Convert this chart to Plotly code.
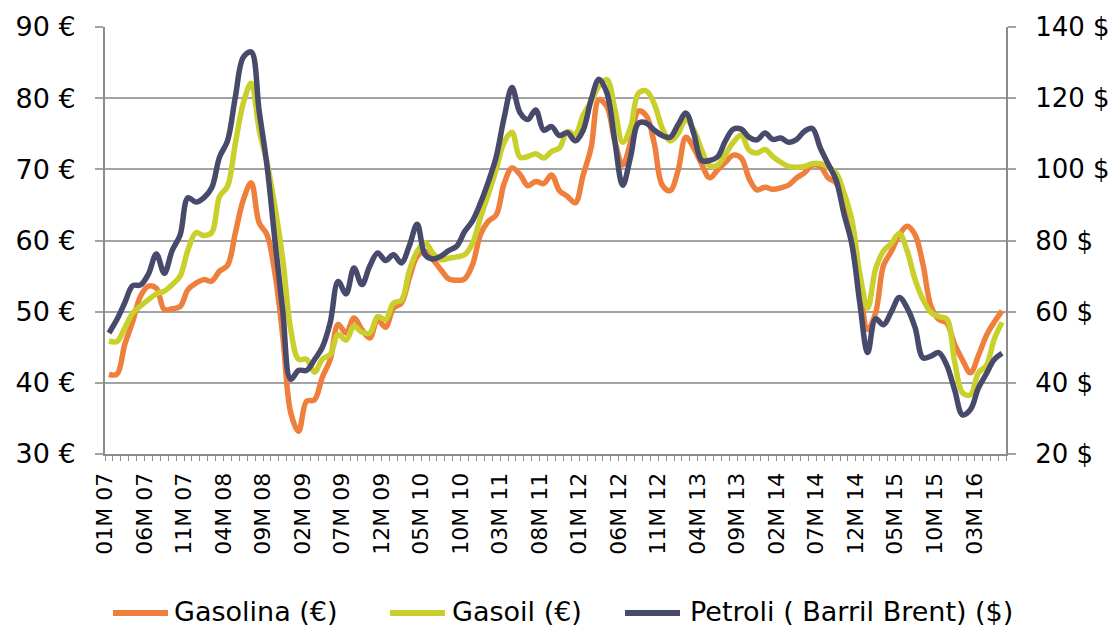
import plotly.graph_objects as go

# ---- data (monthly, 01M 07 .. 06M 16) ----
years = ["07", "08", "09", "10", "11", "12", "13", "14", "15", "16"]
months = []
for yy in years:
    for mm in range(1, 13):
        months.append(f"{mm:02d}M {yy}")
months = months[:114]

gasolina = [
    41.2, 41.2, 45.4, 48.6, 52.2, 53.6, 53.3, 50.3, 50.4, 50.7,
    53.1, 54.0, 54.5, 54.3, 55.7, 56.5, 61.1, 65.7, 68.1, 62.5,
    60.8, 55.4, 46.5, 35.8, 33.2, 37.4, 37.6, 40.8, 43.3, 48.2,
    47.0, 49.1, 47.5, 46.3, 48.9, 47.8, 50.5, 51.2, 54.7, 57.8,
    58.5, 57.3, 55.9, 54.6, 54.4, 54.6, 56.6, 60.8, 62.7, 63.6,
    68.0, 70.2, 69.3, 67.7, 68.3, 68.0, 69.2, 67.0, 66.2, 65.3,
    69.2, 73.0, 79.8, 78.8, 74.0, 70.6, 73.8, 78.2, 77.5, 73.6,
    67.8, 67.0, 69.8, 74.5, 73.0, 70.7, 68.8, 69.9, 71.0, 72.0,
    71.6, 68.7, 67.1, 67.5, 67.2, 67.4, 67.8, 68.8, 69.5, 70.6,
    70.4, 68.8, 68.1, 65.5, 59.5, 53.5, 47.5, 49.8, 56.5, 58.5,
    60.8, 62.0, 60.8, 56.6, 50.8, 48.9, 48.4, 45.4, 43.2, 41.4,
    43.8, 46.6, 48.5, 50.1,
]

gasoil = [
    45.9, 45.8, 47.7, 49.8, 50.8, 51.7, 52.5, 52.9, 53.8, 55.0,
    58.7, 61.1, 60.7, 61.1, 66.2, 67.6, 73.7, 79.3, 82.1, 75.6,
    70.9, 64.8, 57.3, 47.5, 43.3, 43.3, 41.5, 43.3, 44.0, 46.8,
    46.0, 48.0, 47.1, 47.0, 49.3, 48.9, 51.2, 51.6, 55.7, 58.5,
    59.7, 58.2, 57.3, 57.5, 57.7, 58.0, 59.6, 63.2, 66.5, 70.0,
    73.8, 75.2, 71.7, 71.8, 72.2, 71.6, 72.5, 73.0, 75.3, 74.9,
    77.6, 79.5, 81.7, 82.6, 78.5, 73.8, 75.9, 80.7, 81.0, 79.2,
    75.8, 74.0, 75.0, 77.0, 75.5, 72.7, 70.5, 70.6, 72.1, 73.8,
    74.8, 72.7, 72.3, 72.8, 71.8, 71.0, 70.4, 70.3, 70.4, 70.8,
    70.8, 70.3, 69.5, 66.7, 62.9, 55.4, 50.5, 56.0, 58.5, 59.6,
    61.0, 58.5, 54.5, 51.7, 49.9, 49.3, 49.0, 43.0, 38.6, 38.3,
    41.4, 42.4, 46.1, 48.5,
]

brent = [
    54.0, 57.8, 62.5, 67.3, 67.5, 70.6, 76.2, 70.8, 77.2, 81.5,
    92.0, 90.8, 92.0, 94.8, 103.5, 108.0, 120.5, 131.5, 133.0, 116.5,
    101.0, 80.0, 60.0, 41.0, 43.5, 43.5, 46.5, 50.0, 57.0, 68.5,
    65.0, 72.3, 67.6, 72.8, 76.5, 74.4, 76.0, 73.7, 78.5, 84.6,
    76.0, 74.8, 75.6, 77.2, 78.4, 82.5, 85.5, 90.5, 96.5, 103.5,
    114.5, 123.0, 116.0, 114.0, 116.7, 111.0, 112.0, 109.5, 110.3, 108.0,
    111.0, 119.5, 125.3, 121.5, 108.0, 95.5, 103.5, 113.0, 113.0, 111.0,
    109.5, 109.0, 112.5, 115.8, 110.0, 102.5, 102.5, 103.5, 108.0, 111.3,
    111.3, 109.0, 108.3, 110.2, 108.4, 108.8, 107.6, 108.4, 110.7, 111.5,
    106.0, 101.5, 97.0, 87.5, 79.0, 62.5, 48.5, 58.0, 56.3, 60.0,
    64.0, 61.0, 55.5, 47.0, 47.5, 48.5, 45.0, 38.0, 31.0, 32.5,
    38.5, 42.5, 46.5, 48.3,
]

tick_labels = months[::5]
left_ticks = [30, 40, 50, 60, 70, 80, 90]
left_labels = ["30 €", "40 €", "50 €", "60 €", "70 €", "80 €", "90 €"]
right_ticks = [20, 40, 60, 80, 100, 120, 140]
right_labels = ["20 $", "40 $", "60 $", "80 $", "100 $", "120 $", "140 $"]
series_names = ["Gasolina (€)", "Gasoil (€)", "Petroli ( Barril Brent) ($)"]

# ---- styles ----
C_GASOLINA = "#EF7F3C"
C_GASOIL = "#C9CF2B"
C_BRENT = "#474A6B"
GRID = "#A3A3A3"
AXIS = "#8C8C8C"
FONT = "DejaVu Sans"
TXT = "#000000"

W, H = 1115, 627
PL, PR, PT, PB = 105, 1006, 27, 454


def px_x(p):
    return (p - PL) / (PR - PL)


def px_y(p):
    return (PB - p) / (PB - PT)


idx = list(range(len(months)))
fig = go.Figure()
series = [(gasolina, C_GASOLINA, "y", "€"), (gasoil, C_GASOIL, "y", "€"),
          (brent, C_BRENT, "y2", "$")]
for (vals, col, ax, unit), name in zip(series, series_names):
    fig.add_trace(go.Scatter(
        x=idx, y=vals, name=name, mode="lines", yaxis=ax,
        line=dict(color=col, width=5.5, shape="spline", smoothing=1),
        customdata=months, hovertemplate="%{customdata}: %{y} " + unit + "<extra></extra>"))

tick_pos = [months.index(t) - 0.5 for t in tick_labels]

# custom legend (long line keys like the reference)
legend_items = [(113, 168, 172), (390, 445, 450), (625, 680, 688)]
shapes, annotations = [], []
LEG_Y = 611
for (x0, x1, xt), name, (_, col, _, _) in zip(legend_items, series_names, series):
    shapes.append(dict(type="line", xref="paper", yref="paper",
                       x0=px_x(x0), x1=px_x(x1), y0=px_y(LEG_Y + 2), y1=px_y(LEG_Y + 2),
                       line=dict(color=col, width=6)))
    annotations.append(dict(xref="paper", yref="paper", x=px_x(xt), y=px_y(LEG_Y),
                            xanchor="left", yanchor="middle", showarrow=False,
                            text=name, font=dict(size=27, family=FONT, color=TXT)))

fig.update_layout(
    width=W, height=H,
    margin=dict(l=PL, r=W - PR, t=PT, b=H - PB, autoexpand=False),
    paper_bgcolor="white", plot_bgcolor="white",
    font=dict(family=FONT, color=TXT),
    showlegend=False,
    shapes=shapes, annotations=annotations,
    xaxis=dict(
        range=[-0.5, len(months) - 0.5], automargin=False,
        tickmode="array", tickvals=tick_pos, ticktext=tick_labels,
        tickangle=-90, ticks="", tickfont=dict(size=22, family=FONT, color=TXT),
        ticklabelstandoff=8,
        showgrid=False, zeroline=False,
        showline=True, linecolor=AXIS, linewidth=2,
        minor=dict(ticks="outside", ticklen=5, tickwidth=1, tickcolor=AXIS,
                   tickmode="array",
                   tickvals=[i - 0.5 for i in range(len(months) + 1)]),
    ),
    yaxis=dict(
        range=[30, 90], tickmode="array", tickvals=left_ticks, ticktext=left_labels,
        tickfont=dict(size=27, family=FONT, color=TXT), automargin=False,
        showgrid=True, gridcolor=GRID, gridwidth=2,
        ticks="outside", ticklen=8, tickcolor=GRID, tickwidth=2,
        showline=True, linecolor=AXIS, linewidth=2, zeroline=False,
        ticklabelstandoff=14,
    ),
    yaxis2=dict(
        range=[20, 140], tickmode="array", tickvals=right_ticks, ticktext=right_labels,
        tickfont=dict(size=26, family=FONT, color=TXT), automargin=False,
        overlaying="y", side="right", showgrid=False,
        ticks="outside", ticklen=8, tickcolor=GRID, tickwidth=2,
        showline=True, linecolor=AXIS, linewidth=2, zeroline=False,
        ticklabelstandoff=14,
    ),
)

fig.write_html(
    "out.html",
    config={"displayModeBar": False},
    post_script="document.body.style.margin='0';document.body.style.overflow='hidden';",
)
